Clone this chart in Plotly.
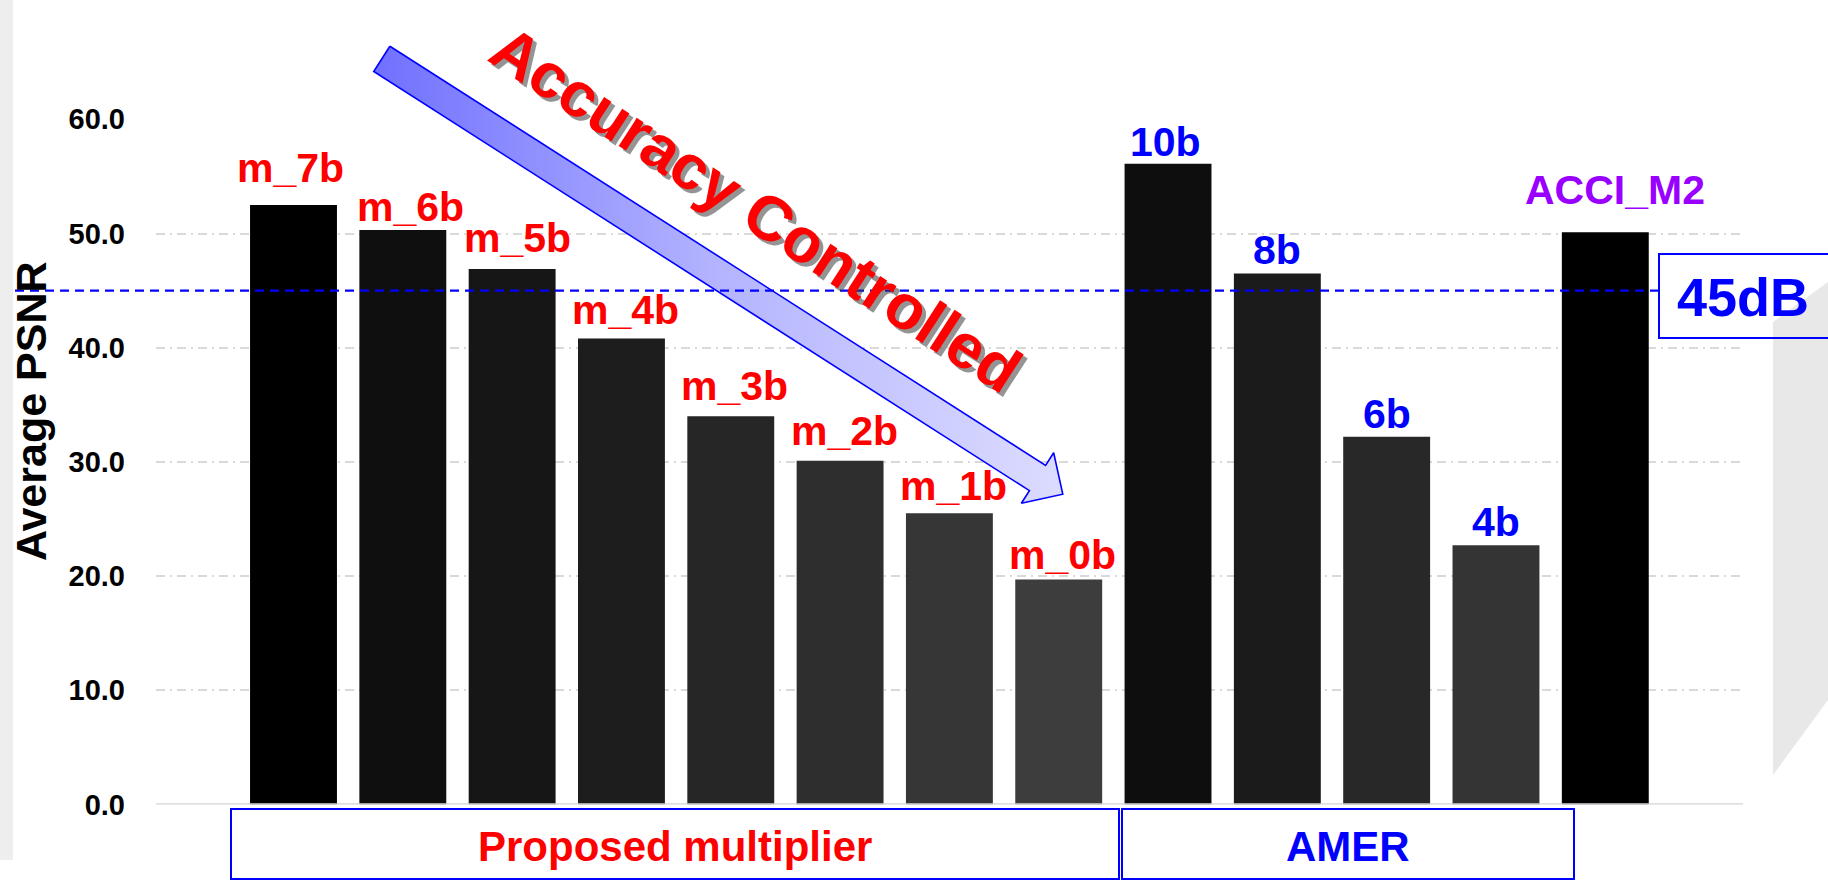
import math
import plotly.graph_objects as go

W, H = 1828, 880
FONT = "Liberation Sans, Arial, sans-serif"

# ---- data -------------------------------------------------------------
categories = ["m_7b", "m_6b", "m_5b", "m_4b", "m_3b", "m_2b", "m_1b", "m_0b",
              "10b", "8b", "6b", "4b", "ACCI_M2"]
psnr = [52.5, 50.3, 46.9, 40.8, 34.0, 30.1, 25.5, 19.7,
        56.1, 46.5, 32.2, 22.7, 50.1]
group_names = ["Proposed multiplier", "AMER"]
threshold_db = 45
threshold_label = "45dB"
y_ticks = [0, 10, 20, 30, 40, 50, 60]
y_title = "Average PSNR"
trend_label = "Accuracy Controlled"

# ---- styling ----------------------------------------------------------
bar_colors = ["#000000", "#0f0f0f", "#161616", "#1d1d1d", "#262626", "#2e2e2e",
              "#363636", "#3d3d3d", "#0e0e0e", "#1b1b1b", "#282828", "#343434",
              "#000000"]
label_colors = ["#ff0000"] * 8 + ["#0000ff"] * 4 + ["#9900ff"]
label_lift = [12, -2, 6, 4, 5, 5, 2, 0, -3, -2, -2, -2, 17]
label_xshift = [-3, 8, 5, 4, 4, 4, 4, 4, -3, 0, 0, 0, 10]

plot_x0, plot_x1 = 156, 1743      # pixel extent of the bar area
plot_y_top, plot_y_zero = 119.3, 804.5

fig = go.Figure()

fig.add_trace(go.Bar(
    x=categories, y=psnr, width=0.795,
    marker=dict(color=bar_colors, line=dict(width=0)),
    hoverinfo="x+y", showlegend=False,
))

# trend arrow, drawn in a pixel-based overlay coordinate system
ang = math.radians(32.6)
ux, uy = math.cos(ang), math.sin(ang)
nx, ny = -math.sin(ang), math.cos(ang)
tail = (381.8, 58.9)
base = (1037.5, 478.0)
tip = (base[0] + 30 * ux, base[1] + 30 * uy)
hw, hh = 15, 30
arrow_pts = [
    (tail[0] - hw * nx, tail[1] - hw * ny),
    (base[0] - hw * nx, base[1] - hw * ny),
    (base[0] - hh * nx, base[1] - hh * ny),
    tip,
    (base[0] + hh * nx, base[1] + hh * ny),
    (base[0] + hw * nx, base[1] + hw * ny),
    (tail[0] + hw * nx, tail[1] + hw * ny),
    (tail[0] - hw * nx, tail[1] - hw * ny),
]
fig.add_trace(go.Scatter(
    x=[p[0] for p in arrow_pts], y=[p[1] for p in arrow_pts],
    xaxis="x2", yaxis="y2", mode="lines", fill="toself",
    fillgradient=dict(type="horizontal",
                      colorscale=[[0, "#7070ff"], [0.5, "#b4b4ff"], [1, "#dcdcff"]]),
    line=dict(color="#0000ff", width=1.6),
    hoverinfo="skip", showlegend=False,
))

shapes = []
# background decoration
shapes.append(dict(type="rect", xref="x2", yref="y2", x0=0, x1=13, y0=0, y1=860,
                   fillcolor="#eeeeee", line=dict(width=0), layer="below"))
shapes.append(dict(type="path", xref="x2", yref="y2",
                   path="M1773,322 L1828,282 L1828,700 L1773,775 Z",
                   fillcolor="#e8e8e8", line=dict(width=0), layer="below"))
# baseline
shapes.append(dict(type="line", xref="x2", yref="y", x0=plot_x0, x1=plot_x1, y0=0, y1=0,
                   line=dict(color="#d4d4d4", width=2.5)))
# threshold line
shapes.append(dict(type="line", xref="x2", yref="y", x0=15, x1=1659,
                   y0=threshold_db, y1=threshold_db,
                   line=dict(color="#0000ff", width=2.2, dash="9px,6px")))
# threshold label box
shapes.append(dict(type="rect", xref="x2", yref="y2", x0=1659, x1=1834, y0=254, y1=338,
                   line=dict(color="#0000ff", width=2)))
# group boxes
group_boxes = [(231, 1119), (1122, 1574)]
for x0, x1 in group_boxes:
    shapes.append(dict(type="rect", xref="x2", yref="y2", x0=x0, x1=x1, y0=809, y1=879,
                       line=dict(color="#0000ff", width=2)))

annotations = []
for i, (c, v) in enumerate(zip(categories, psnr)):
    annotations.append(dict(
        x=c, y=v, xref="x", yref="y", text=c, showarrow=False,
        yanchor="bottom", yshift=label_lift[i], xshift=label_xshift[i],
        font=dict(family=FONT, size=41, color=label_colors[i], weight="bold"),
    ))

group_colors = ["#ff0000", "#0000ff"]
for (x0, x1), name, col in zip(group_boxes, group_names, group_colors):
    annotations.append(dict(
        x=(x0 + x1) / 2, y=846, xref="x2", yref="y2", text=name, showarrow=False,
        font=dict(family=FONT, size=42, color=col, weight="bold"),
    ))

annotations.append(dict(
    x=1743, y=297, xref="x2", yref="y2", text=threshold_label, showarrow=False,
    font=dict(family=FONT, size=54, color="#0000ff", weight="bold"),
))
annotations.append(dict(
    x=31, y=411, xref="x2", yref="y2", text=y_title, showarrow=False, textangle=-90,
    font=dict(family=FONT, size=43, color="#000000", weight="bold"),
))
# shadowed rotated caption
annotations.append(dict(
    x=760, y=213, xref="x2", yref="y2", text=trend_label, showarrow=False, textangle=33,
    font=dict(family=FONT, size=63, color="rgba(60,60,60,0.55)", weight="bold"),
))
annotations.append(dict(
    x=756, y=209, xref="x2", yref="y2", text=trend_label, showarrow=False, textangle=33,
    font=dict(family=FONT, size=63, color="#ff0000", weight="bold"),
))

px_per_cat = 109.31
x_lo = -(293.5 - plot_x0) / px_per_cat
x_hi = 12 + (plot_x1 - 1605.3) / px_per_cat

fig.update_layout(
    width=W, height=H,
    margin=dict(l=0, r=0, t=0, b=0, pad=0, autoexpand=False),
    paper_bgcolor="#ffffff", plot_bgcolor="rgba(0,0,0,0)",
    bargap=0.2,
    xaxis=dict(domain=[plot_x0 / W, plot_x1 / W], type="category", range=[x_lo, x_hi],
               showticklabels=False, showgrid=False, zeroline=False, showline=False,
               ticks="", automargin=False, fixedrange=True),
    yaxis=dict(domain=[(H - plot_y_zero) / H, (H - plot_y_top) / H], range=[0, 60],
               tickvals=y_ticks, tickformat=".1f", showgrid=True,
               gridcolor="#d9d9d9", gridwidth=1.6, griddash="9px,5px,2px,5px",
               zeroline=False, showline=False, ticks="", ticklabelstandoff=30,
               tickfont=dict(family=FONT, size=29, color="#000000", weight="bold"),
               automargin=False, fixedrange=True),
    xaxis2=dict(domain=[0, 1], range=[0, W], visible=False, anchor="y2",
                automargin=False, fixedrange=True),
    yaxis2=dict(domain=[0, 1], range=[H, 0], visible=False, anchor="x2",
                automargin=False, fixedrange=True),
    shapes=shapes,
    annotations=annotations,
)

fig.write_html("out.html")
